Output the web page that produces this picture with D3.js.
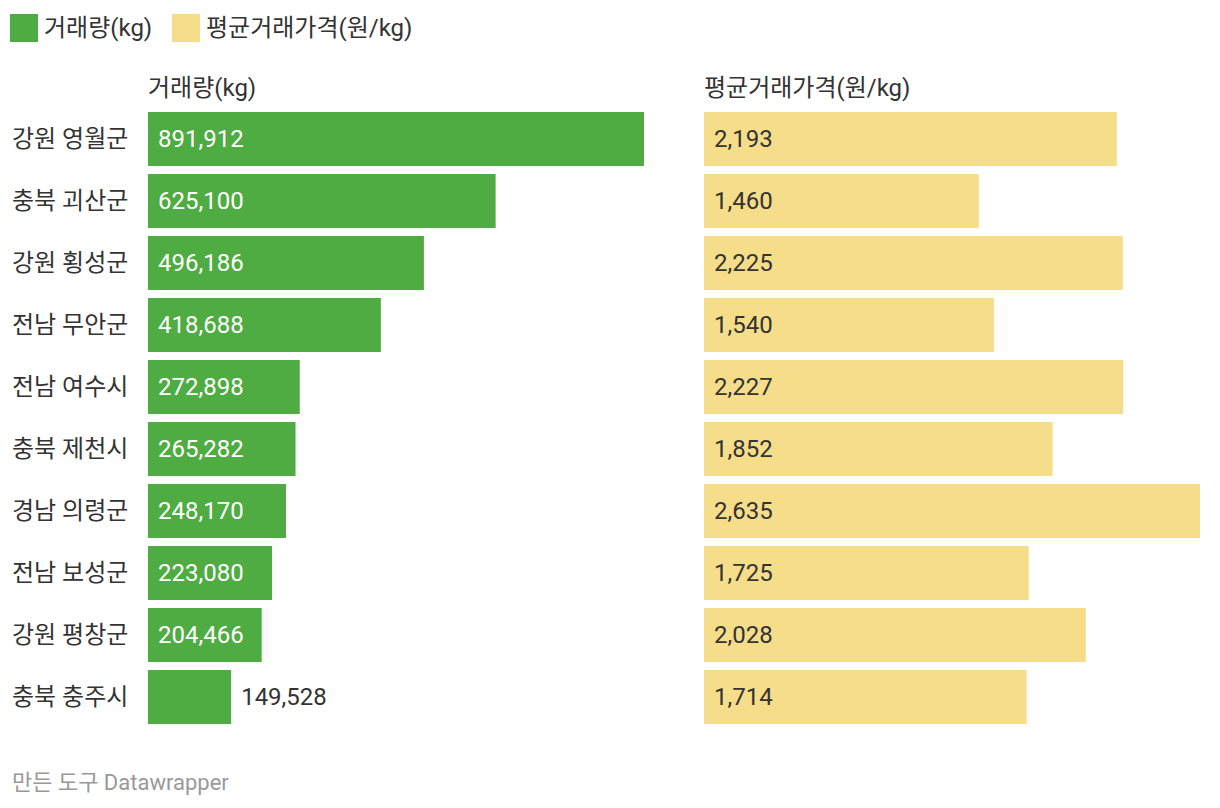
<!DOCTYPE html>
<html>
<head>
<meta charset="utf-8">
<script src="https://d3js.org/d3.v7.min.js"></script>
<style>
  body { margin: 0; background: #fff; }
  text { font-family: Roboto, "Noto Sans CJK KR", sans-serif; }
</style>
</head>
<body>
<div id="chart"></div>
<script>
// data
var regions = ['강원 영월군', '충북 괴산군', '강원 횡성군', '전남 무안군', '전남 여수시',
               '충북 제천시', '경남 의령군', '전남 보성군', '강원 평창군', '충북 충주시'];
var volume = [891912, 625100, 496186, 418688, 272898, 265282, 248170, 223080, 204466, 149528];
var price = [2193, 1460, 2225, 1540, 2227, 1852, 2635, 1725, 2028, 1714];
var seriesNames = ['거래량(kg)', '평균거래가격(원/kg)'];
var colors = ['#4fac42', '#f5dd8a'];

var width = 1220, height = 808;
var svg = d3.select('#chart').append('svg')
    .attr('width', width)
    .attr('height', height);

var fmt = d3.format(',');
var fs = 24;

// legend
var legend = svg.append('g');
var legendX = [10, 172];
seriesNames.forEach(function(name, i) {
    legend.append('rect')
        .attr('x', legendX[i]).attr('y', 14)
        .attr('width', 28).attr('height', 28)
        .attr('fill', colors[i]);
    legend.append('text')
        .attr('x', legendX[i] + 34).attr('y', 28)
        .attr('dy', '0.35em')
        .attr('font-size', fs).attr('fill', '#333')
        .text(name);
});

// rows
var y = d3.scaleBand()
    .domain(regions)
    .range([112, 724])
    .paddingInner(8 / 62)
    .paddingOuter(0)
    .align(0);

svg.append('g').selectAll('text')
    .data(regions)
    .enter().append('text')
    .attr('x', 12)
    .attr('y', function(d) { return y(d) + y.bandwidth() / 2; })
    .attr('dy', '0.35em')
    .attr('font-size', fs)
    .attr('fill', '#333')
    .text(function(d) { return d; });

function panel(x0, values, color, title, darkText) {
    var x = d3.scaleLinear()
        .domain([0, d3.max(values)])
        .range([x0, x0 + 496]);

    svg.append('text')
        .attr('x', x0).attr('y', 88)
        .attr('dy', '0.35em')
        .attr('font-size', fs).attr('fill', '#333')
        .text(title);

    var g = svg.append('g');
    g.selectAll('rect')
        .data(values)
        .enter().append('rect')
        .attr('x', x0)
        .attr('y', function(d, i) { return y(regions[i]); })
        .attr('width', function(d) { return x(d) - x0; })
        .attr('height', y.bandwidth())
        .attr('fill', color);

    g.selectAll('text')
        .data(values)
        .enter().append('text')
        .attr('y', function(d, i) { return y(regions[i]) + y.bandwidth() / 2; })
        .attr('dy', '0.35em')
        .attr('font-size', fs)
        .each(function(d) {
            var inside = x(d) - x0 > 110;
            d3.select(this)
                .attr('x', inside ? x0 + 10 : x(d) + 10)
                .attr('fill', (inside && !darkText) ? '#fff' : '#333');
        })
        .text(function(d) { return fmt(d); });
}

panel(148, volume, colors[0], seriesNames[0], false);
panel(704, price, colors[1], seriesNames[1], true);

// footer
svg.append('text')
    .attr('x', 12).attr('y', 782)
    .attr('dy', '0.35em')
    .attr('font-size', 22).attr('fill', '#999')
    .text('만든 도구 Datawrapper');
</script>
</body>
</html>
